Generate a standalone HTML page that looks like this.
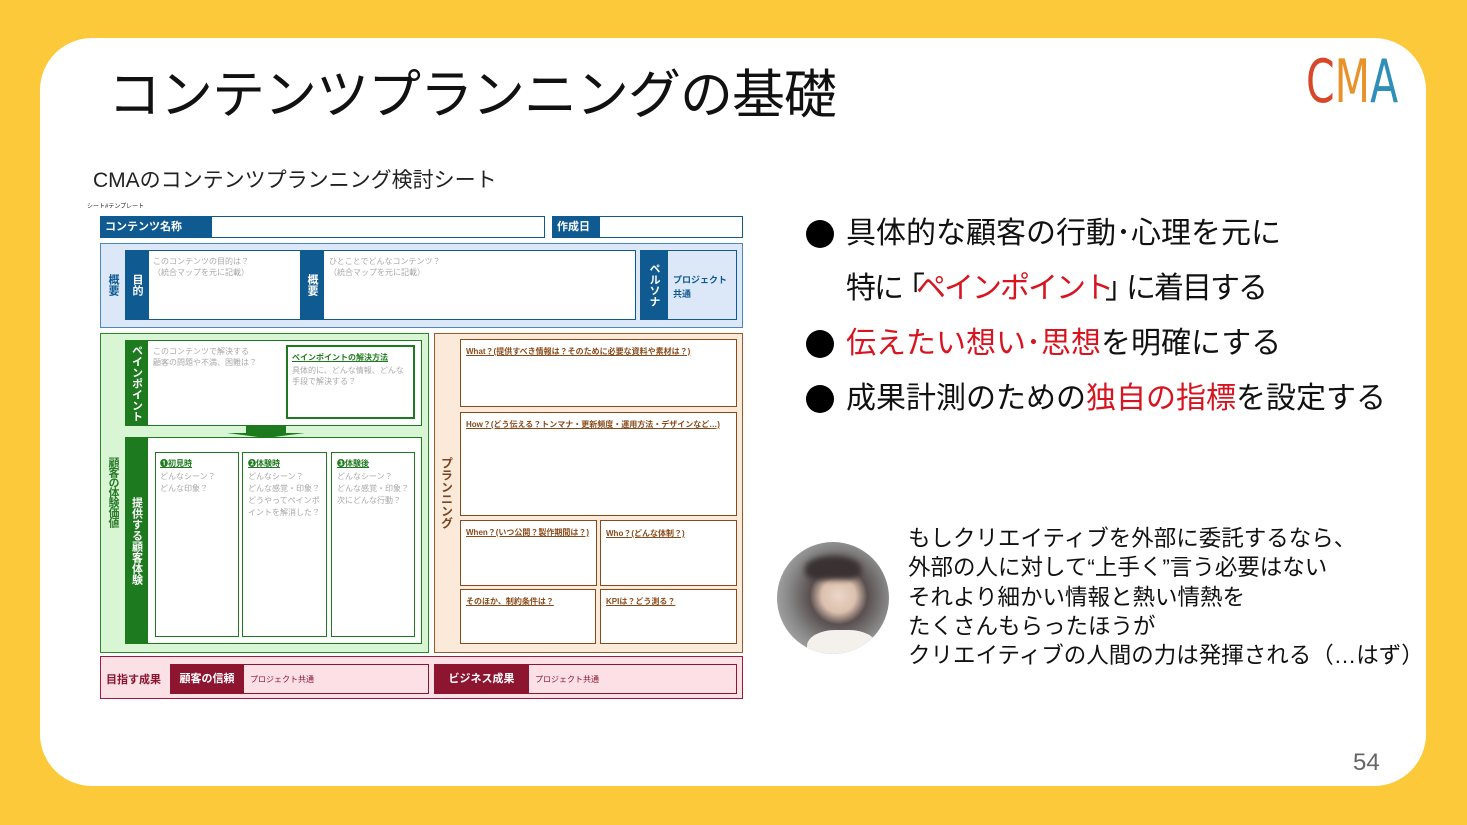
<!DOCTYPE html>
<html><head><meta charset="utf-8"><style>
*{margin:0;padding:0;box-sizing:border-box}
body{width:1467px;height:825px;background:#fcc93b;position:relative;overflow:hidden;font-family:"Liberation Sans","Noto Sans CJK JP",sans-serif}
.a{position:absolute}
.card{left:40px;top:38px;width:1386px;height:748px;background:#fff;border-radius:52px}
.v{writing-mode:vertical-rl;text-orientation:upright;display:flex;align-items:center;justify-content:center;font-weight:bold}
.g{color:#a8a8a8;font-size:8px;line-height:11px}
.u{text-decoration:underline;font-size:8px;font-weight:bold}
.bx{background:#fff;position:absolute}
.r{color:#d7141f}
.bl{font-size:30px;line-height:40px;color:#111;white-space:nowrap}
.dot{position:absolute;left:806px;width:28px;height:28px;border-radius:50%;background:#000}
.br{display:inline-block;margin:0 -7px}
</style></head><body>
<div class="a card"></div>
<div class="a" style="left:108px;top:60px;font-size:53px;line-height:72px;color:#111;letter-spacing:-1px">コンテンツプランニングの基礎</div>
<div class="a" style="left:1306px;top:49px;font-size:60px;line-height:66px;font-family:'DejaVu Sans Condensed','Liberation Sans Narrow',sans-serif;transform:scaleX(.76);transform-origin:left"><span style="color:#d9472b">C</span><span style="color:#e8922a">M</span><span style="color:#2f8fb8">A</span></div>
<div class="a" style="left:93px;top:167px;font-size:21px;line-height:28px;color:#222">CMAのコンテンツプランニング検討シート</div>
<div class="a" style="left:87px;top:201px;font-size:6px;color:#222">シート#テンプレート</div>

<!-- row1 -->
<div class="a" style="left:100px;top:216px;width:445px;height:22px;border:1.5px solid #0e5a91;background:#fff"></div>
<div class="a" style="left:100px;top:216px;width:112px;height:22px;background:#0e5a91;color:#fff;font-size:11px;font-weight:bold;line-height:22px;padding-left:5px">コンテンツ名称</div>
<div class="a" style="left:552px;top:216px;width:191px;height:22px;border:1.5px solid #0e5a91;background:#fff"></div>
<div class="a" style="left:552px;top:216px;width:48px;height:22px;background:#0e5a91;color:#fff;font-size:11px;font-weight:bold;line-height:22px;padding-left:5px">作成日</div>

<!-- blue section -->
<div class="a" style="left:100px;top:243px;width:643px;height:85px;background:#dce8f8;border:1.5px solid #4a86c0"></div>
<div class="a v" style="left:104px;top:250px;width:18px;height:70px;color:#0e5a91;font-size:11px">概要</div>
<div class="a" style="left:125px;top:250px;width:511px;height:70px;border:1.5px solid #0e5a91;background:#fff"></div>
<div class="a v" style="left:125px;top:250px;width:24px;height:70px;background:#0e5a91;color:#fff;font-size:11px">目的</div>
<div class="a g" style="left:153px;top:256px">このコンテンツの目的は？<br>（統合マップを元に記載）</div>
<div class="a v" style="left:300px;top:250px;width:24px;height:70px;background:#0e5a91;color:#fff;font-size:11px">概要</div>
<div class="a g" style="left:329px;top:256px">ひとことでどんなコンテンツ？<br>（統合マップを元に記載）</div>
<div class="a" style="left:640px;top:250px;width:97px;height:70px;border:1.5px solid #0e5a91;background:#dce8f8"></div>
<div class="a v" style="left:640px;top:250px;width:28px;height:70px;background:#0e5a91;color:#fff;font-size:11px">ペルソナ</div>
<div class="a" style="left:673px;top:273px;font-size:9px;line-height:14px;color:#0e5a91;font-weight:bold">プロジェクト<br>共通</div>

<!-- green -->
<div class="a" style="left:100px;top:333px;width:329px;height:320px;background:#d9f6d4;border:1.5px solid #2a8a2a"></div>
<div class="a v" style="left:103px;top:450px;width:20px;height:84px;color:#2a7a2a;font-size:11px;letter-spacing:-1px">顧客の体験価値</div>
<div class="a" style="left:125px;top:340px;width:297px;height:86px;background:#fff;border:1.5px solid #1e7a1e"></div>
<div class="a v" style="left:125px;top:340px;width:23px;height:86px;background:#1e7a1e;color:#fff;font-size:11px">ペインポイント</div>
<div class="a g" style="left:153px;top:346px">このコンテンツで解決する<br>顧客の問題や不満、困難は？</div>
<div class="a" style="left:286px;top:345px;width:129px;height:74px;border:2px solid #1e7a1e;background:#fff"></div>
<div class="a u" style="left:292px;top:352px;color:#1e7a1e">ペインポイントの解決方法</div>
<div class="a g" style="left:292px;top:365px">具体的に、どんな情報、どんな<br>手段で解決する？</div>
<div class="a" style="left:246px;top:425px;width:40px;height:8px;background:#1e7a1e"></div>
<div class="a" style="left:227px;top:433px;width:0;height:0;border-left:39px solid transparent;border-right:39px solid transparent;border-top:5px solid #1e7a1e"></div>
<div class="a" style="left:125px;top:437px;width:297px;height:207px;background:#fff;border:1.5px solid #1e7a1e"></div>
<div class="a v" style="left:125px;top:437px;width:23px;height:207px;background:#1e7a1e;color:#fff;font-size:11px">提供する顧客体験</div>
<div class="a" style="left:155px;top:452px;width:84px;height:185px;border:1.5px solid #1e7a1e"></div>
<div class="a" style="left:242px;top:452px;width:85px;height:185px;border:1.5px solid #1e7a1e"></div>
<div class="a" style="left:331px;top:452px;width:84px;height:185px;border:1.5px solid #1e7a1e"></div>
<div class="a" style="left:160px;top:458px"><div class="u" style="color:#1e7a1e">❶初見時</div><div class="g" style="margin-top:2px;line-height:12px">どんなシーン？<br>どんな印象？</div></div>
<div class="a" style="left:248px;top:458px"><div class="u" style="color:#1e7a1e">❷体験時</div><div class="g" style="margin-top:2px;line-height:12px">どんなシーン？<br>どんな感覚・印象？<br>どうやってペインポ<br>イントを解消した？</div></div>
<div class="a" style="left:337px;top:458px"><div class="u" style="color:#1e7a1e">❸体験後</div><div class="g" style="margin-top:2px;line-height:12px">どんなシーン？<br>どんな感覚・印象？<br>次にどんな行動？</div></div>

<!-- orange -->
<div class="a" style="left:434px;top:333px;width:309px;height:320px;background:#fbe9da;border:1.5px solid #9a5a2a"></div>
<div class="a v" style="left:437px;top:455px;width:20px;height:75px;color:#7a4420;font-size:12px">プランニング</div>
<div class="bx" style="left:460px;top:339px;width:277px;height:68px;border:1.5px solid #8a4a1a"></div>
<div class="bx" style="left:460px;top:412px;width:277px;height:104px;border:1.5px solid #8a4a1a"></div>
<div class="bx" style="left:460px;top:520px;width:137px;height:66px;border:1.5px solid #8a4a1a"></div>
<div class="bx" style="left:600px;top:520px;width:137px;height:66px;border:1.5px solid #8a4a1a"></div>
<div class="bx" style="left:460px;top:589px;width:136px;height:55px;border:1.5px solid #8a4a1a"></div>
<div class="bx" style="left:600px;top:589px;width:137px;height:55px;border:1.5px solid #8a4a1a"></div>
<div class="a u" style="left:466px;top:346px;color:#8a4a1a">What？(提供すべき情報は？そのために必要な資料や素材は？)</div>
<div class="a u" style="left:466px;top:419px;color:#8a4a1a">How？(どう伝える？トンマナ・更新頻度・運用方法・デザインなど…)</div>
<div class="a u" style="left:466px;top:528px;color:#8a4a1a;width:125px;line-height:10px">When？(いつ公開？製作期間は？)</div>
<div class="a u" style="left:606px;top:528px;color:#8a4a1a">Who？(どんな体制？)</div>
<div class="a u" style="left:466px;top:596px;color:#8a4a1a">そのほか、制約条件は？</div>
<div class="a u" style="left:606px;top:596px;color:#8a4a1a">KPIは？どう測る？</div>

<!-- pink -->
<div class="a" style="left:100px;top:656px;width:643px;height:43px;background:#fbe0e5;border:1.5px solid #a0183a"></div>
<div class="a" style="left:106px;top:671px;font-size:11px;color:#8a1530;font-weight:bold">目指す成果</div>
<div class="a" style="left:170px;top:664px;width:259px;height:30px;border:1.5px solid #8e1530"></div>
<div class="a" style="left:170px;top:664px;width:74px;height:30px;background:#8e1530;color:#fff;font-size:11px;font-weight:bold;line-height:30px;text-align:center">顧客の信頼</div>
<div class="a" style="left:250px;top:674px;font-size:8px;color:#8e1530">プロジェクト共通</div>
<div class="a" style="left:434px;top:664px;width:303px;height:30px;border:1.5px solid #8e1530"></div>
<div class="a" style="left:434px;top:664px;width:95px;height:30px;background:#8e1530;color:#fff;font-size:11px;font-weight:bold;line-height:30px;text-align:center">ビジネス成果</div>
<div class="a" style="left:535px;top:674px;font-size:8px;color:#8e1530">プロジェクト共通</div>

<!-- bullets -->
<div class="dot" style="top:220px"></div>
<div class="dot" style="top:330px"></div>
<div class="dot" style="top:385px"></div>
<div class="a bl" style="left:846px;top:214px">具体的な顧客の行動･心理を元に</div>
<div class="a bl" style="left:846px;top:269px;letter-spacing:-2px">特に<span class="br">「</span><span class="r">ペインポイント</span><span class="br">」</span>に着目する</div>
<div class="a bl" style="left:846px;top:324px"><span class="r">伝えたい想い･思想</span>を明確にする</div>
<div class="a bl" style="left:846px;top:379px">成果計測のための<span class="r">独自の指標</span>を設定する</div>

<!-- photo -->
<div class="a" style="left:777px;top:542px;width:112px;height:112px;border-radius:50%;background:radial-gradient(circle at 55% 48%,#ead6c8 0,#dcc0ae 20%,#5a5050 34%,#8a8a8a 60%,#c8c8c8 100%);overflow:hidden">
<div class="a" style="left:28px;top:14px;width:56px;height:24px;background:#3a3232;border-radius:50% 50% 30% 30%;filter:blur(3px)"></div>
<div class="a" style="left:30px;top:88px;width:70px;height:40px;background:#f4f0ec;border-radius:40% 40% 0 0"></div></div>

<div class="a" style="left:908px;top:524px;font-size:22.5px;line-height:29.3px;color:#111;white-space:nowrap">もしクリエイティブを外部に委託するなら、<br>外部の人に対して“上手く”言う必要はない<br>それより細かい情報と熱い情熱を<br>たくさんもらったほうが<br>クリエイティブの人間の力は発揮される（…はず）</div>

<div class="a" style="left:1353px;top:749px;font-size:24px;color:#666">54</div>
</body></html>
